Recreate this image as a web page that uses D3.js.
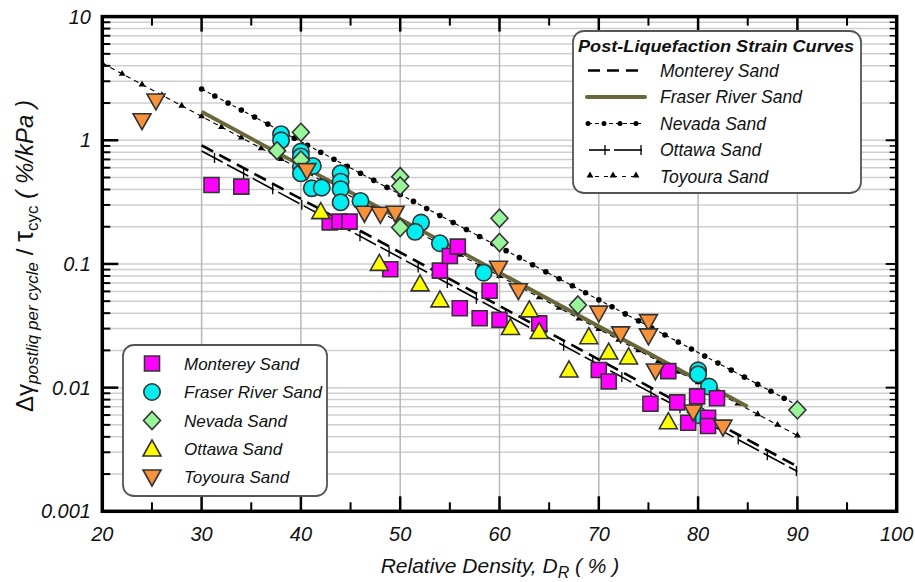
<!DOCTYPE html>
<html>
<head>
<meta charset="utf-8">
<script src="https://cdn.jsdelivr.net/npm/d3@7"></script>
<style>
  html, body { margin: 0; padding: 0; background: #fff; }
  svg { display: block; }
  text { font-family: "Liberation Sans", Arial, sans-serif; }
</style>
</head>
<body>
<svg id="chart" width="915" height="582"></svg>
<script>
// ---- Measured data: relative density (%) vs. post-liquefaction strain rate ----
const montereyDr  = [31, 34, 42.9, 43.9, 44.9, 49, 54, 55, 55.8, 59, 56, 58, 60, 64, 70, 71, 75.2, 77, 77.9, 79.9, 81.9, 79, 81, 81];
const montereyVal = [0.435, 0.422, 0.217, 0.22, 0.22, 0.0906, 0.0883, 0.116, 0.138, 0.0608, 0.0438, 0.0364, 0.0353, 0.0331, 0.0139, 0.0112, 0.0074, 0.0136, 0.0076, 0.0085, 0.0082, 0.0052, 0.0057, 0.0049];

const fraserDr  = [38, 38, 40, 40, 40, 40, 41.2, 41.1, 42.1, 44, 44, 44, 44, 46, 52.1, 51.5, 54, 58.4, 80, 80, 81.1, 80];
const fraserVal = [1.12, 1.0, 0.81, 0.74, 0.61, 0.54, 0.62, 0.409, 0.414, 0.54, 0.463, 0.402, 0.315, 0.323, 0.216, 0.182, 0.147, 0.085, 0.0138, 0.0128, 0.0102, 0.006];

const nevadaDr  = [40, 37.6, 40, 50, 50, 50, 60, 60, 67.9, 90];
const nevadaVal = [1.16, 0.824, 0.693, 0.508, 0.427, 0.197, 0.234, 0.149, 0.0466, 0.0066];

const ottawaDr  = [42, 47.9, 52, 54, 61.1, 63, 64, 67, 69, 71, 73, 77];
const ottawaVal = [0.265, 0.101, 0.069, 0.0512, 0.0306, 0.0425, 0.0284, 0.0139, 0.0258, 0.0194, 0.0177, 0.0053];

const toyouraDr  = [25.4, 24, 40.6, 46.4, 48, 49.5, 59.9, 61.9, 70, 72.2, 75, 75, 75.7, 79.5, 82.5];
const toyouraVal = [2.08, 1.44, 0.568, 0.257, 0.252, 0.257, 0.0923, 0.0608, 0.04, 0.0272, 0.0342, 0.0262, 0.01364, 0.00635, 0.00479];

// ---- Fitted post-liquefaction strain curves (end points: Dr, value) ----
const curveMonterey = [[30, 0.91], [90, 0.0023]];
const curveFraser   = [[30, 1.70], [85, 0.0070]];
const curveNevada   = [[30, 2.60], [90, 0.0072]];
const curveOttawa   = [[30, 0.82], [90, 0.0021]];
const curveToyoura  = [[20, 4.2],  [90, 0.0041]];

// ---- Axis ticks ----
const xTicks = [20, 30, 40, 50, 60, 70, 80, 90, 100];
const yTicks = [0.001, 0.01, 0.1, 1, 10];
const yTickLabels = ["0.001", "0.01", "0.1", "1", "10"];

const sandNames = ["Monterey Sand", "Fraser River Sand", "Nevada Sand", "Ottawa Sand", "Toyoura Sand"];

const svg = d3.select("#chart");
const L = 102.3, R = 896.7, T = 16.6, B = 511.3;
const x = d3.scaleLinear().domain([20, 100]).range([L, R]);
const y = d3.scaleLog().domain([0.001, 10]).range([B, T]);

// minor values on the log axis
const yMinor = [];
for (let e = -3; e < 1; e++) for (let m = 2; m <= 9; m++) yMinor.push(m * Math.pow(10, e));
const xMinor = d3.range(25, 100, 10);

// ---- Grid ----
const grid = svg.append("g");
grid.selectAll(".hg").data(yMinor.concat(yTicks.slice(1, 4))).join("line")
  .attr("x1", L).attr("x2", R).attr("y1", d => y(d)).attr("y2", d => y(d))
  .attr("stroke", "#cfcfcf").attr("stroke-width", 1.5);
grid.selectAll(".vg").data(xTicks.slice(1, -1)).join("line")
  .attr("y1", T).attr("y2", B).attr("x1", d => x(d)).attr("x2", d => x(d))
  .attr("stroke", "#b8b8b8").attr("stroke-width", 1.5);

// ---- Ticks (inward) on all four sides ----
const ticks = svg.append("g").attr("stroke", "#000");
xTicks.slice(1, -1).forEach(v => {
  ticks.append("line").attr("x1", x(v)).attr("x2", x(v)).attr("y1", B).attr("y2", B - 15).attr("stroke-width", 2.5);
  ticks.append("line").attr("x1", x(v)).attr("x2", x(v)).attr("y1", T).attr("y2", T + 15).attr("stroke-width", 2.5);
});
xMinor.forEach(v => {
  ticks.append("line").attr("x1", x(v)).attr("x2", x(v)).attr("y1", B).attr("y2", B - 9).attr("stroke-width", 2);
  ticks.append("line").attr("x1", x(v)).attr("x2", x(v)).attr("y1", T).attr("y2", T + 9).attr("stroke-width", 2);
});
yTicks.slice(1, -1).forEach(v => {
  ticks.append("line").attr("x1", L).attr("x2", L + 16).attr("y1", y(v)).attr("y2", y(v)).attr("stroke-width", 2.5);
  ticks.append("line").attr("x1", R).attr("x2", R - 11).attr("y1", y(v)).attr("y2", y(v)).attr("stroke-width", 2);
});
yMinor.forEach(v => {
  ticks.append("line").attr("x1", L).attr("x2", L + 8).attr("y1", y(v)).attr("y2", y(v)).attr("stroke-width", 2);
  ticks.append("line").attr("x1", R).attr("x2", R - 7).attr("y1", y(v)).attr("y2", y(v)).attr("stroke-width", 1.5);
});

// ---- Tick labels ----
svg.append("g").selectAll("text").data(xTicks).join("text")
  .attr("x", d => x(d)).attr("y", 541).attr("text-anchor", "middle")
  .attr("font-size", 20).attr("font-style", "italic").attr("fill", "#111")
  .text(d => d);
svg.append("g").selectAll("text").data(yTicks).join("text")
  .attr("x", 91).attr("y", d => y(d) + 7).attr("text-anchor", "end")
  .attr("font-size", 20).attr("font-style", "italic").attr("fill", "#111")
  .text((d, i) => yTickLabels[i]);

// ---- Axis titles ----
const xt = svg.append("text").attr("x", 500).attr("y", 573).attr("text-anchor", "middle")
  .attr("font-size", 21).attr("font-style", "italic").attr("fill", "#111");
xt.append("tspan").text("Relative Density, D");
xt.append("tspan").attr("font-size", 16).attr("dy", 5).text("R");
xt.append("tspan").attr("dy", -5).text(" ( % )");

const yt = svg.append("text").attr("transform", "translate(33,256) rotate(-90)")
  .attr("text-anchor", "middle").attr("font-size", 24).attr("fill", "#111");
yt.append("tspan").text("Δγ");
yt.append("tspan").attr("font-size", 17).attr("font-style", "italic").attr("dy", 5).text("postliq per cycle");
yt.append("tspan").attr("dy", -5).text(" / ");
yt.append("tspan").attr("font-size", 28).text("τ");
yt.append("tspan").attr("font-size", 17).attr("dy", 5).text("cyc");
yt.append("tspan").attr("dy", -5).attr("font-style", "italic").text(" ( %/kPa )");

// ---- Curves ----
const clip = svg.append("clipPath").attr("id", "plotClip").append("rect")
  .attr("x", L).attr("y", T).attr("width", R - L).attr("height", B - T);
const curves = svg.append("g").attr("clip-path", "url(#plotClip)");
const line = d3.line().x(d => x(d[0])).y(d => y(d[1]));
const logInterp = (c, dr) => {
  const t = (dr - c[0][0]) / (c[1][0] - c[0][0]);
  return Math.pow(10, Math.log10(c[0][1]) + t * (Math.log10(c[1][1]) - Math.log10(c[0][1])));
};

// Toyoura: short dashes with small triangles
curves.append("path").attr("d", line(curveToyoura)).attr("fill", "none")
  .attr("stroke", "#000").attr("stroke-width", 1.1).attr("stroke-dasharray", "5,4");
curves.selectAll(".toyM").data(d3.range(20, 90.01, 2)).join("path")
  .attr("d", d3.symbol(d3.symbolTriangle, 20))
  .attr("transform", d => `translate(${x(d)},${y(logInterp(curveToyoura, d))})`)
  .attr("fill", "#000");

// Nevada: short dashes with dots
curves.append("path").attr("d", line(curveNevada)).attr("fill", "none")
  .attr("stroke", "#000").attr("stroke-width", 1.1).attr("stroke-dasharray", "4,3");
curves.selectAll(".nevM").data(d3.range(30, 90.01, 4 / 3)).join("circle")
  .attr("cx", d => x(d)).attr("cy", d => y(logInterp(curveNevada, d)))
  .attr("r", 2.8).attr("fill", "#000");

// Ottawa: long dashes with cross ticks
curves.append("path").attr("d", line(curveOttawa)).attr("fill", "none")
  .attr("stroke", "#000").attr("stroke-width", 1.6).attr("stroke-dasharray", "24,5");
curves.selectAll(".otM").data(d3.range(31.3, 90, 2.93)).join("line")
  .attr("x1", d => x(d)).attr("x2", d => x(d))
  .attr("y1", d => y(logInterp(curveOttawa, d)) - 5).attr("y2", d => y(logInterp(curveOttawa, d)) + 5)
  .attr("stroke", "#000").attr("stroke-width", 1.3);

// Monterey: heavy dashes
curves.append("path").attr("d", line(curveMonterey)).attr("fill", "none")
  .attr("stroke", "#000").attr("stroke-width", 2.6).attr("stroke-dasharray", "13,7");

// Fraser River: solid olive
curves.append("path").attr("d", line(curveFraser)).attr("fill", "none")
  .attr("stroke", "#6a673a").attr("stroke-width", 3.8);

// ---- Markers ----
const styles = [
  { fill: "#ff00ff", sym: "square" },
  { fill: "#00eef0", sym: "circle" },
  { fill: "#98f59a", sym: "diamond" },
  { fill: "#ffff00", sym: "up" },
  { fill: "#f7923a", sym: "down" }
];
function symbolPath(kind) {
  switch (kind) {
    case "square":  return "M-7.5,-7.5H7.5V7.5H-7.5Z";
    case "circle":  return d3.symbol(d3.symbolCircle, Math.PI * 8.2 * 8.2)();
    case "diamond": return "M0,-9L8.5,0L0,9L-8.5,0Z";
    case "up":      return "M0,-9L9,7H-9Z";
    case "down":    return "M0,9L9,-7H-9Z";
  }
}
const seriesDr  = [montereyDr, fraserDr, nevadaDr, ottawaDr, toyouraDr];
const seriesVal = [montereyVal, fraserVal, nevadaVal, ottawaVal, toyouraVal];
const drawOrder = [1, 0, 3, 2, 4];
const marks = svg.append("g");
drawOrder.forEach(si => {
  const pts = seriesDr[si].map((d, i) => [d, seriesVal[si][i]]);
  marks.append("g").selectAll("path").data(pts).join("path")
    .attr("d", symbolPath(styles[si].sym))
    .attr("transform", d => `translate(${x(d[0])},${y(d[1])})`)
    .attr("fill", styles[si].fill).attr("stroke", "#333").attr("stroke-width", 1.6);
});

// ---- Plot frame ----
svg.append("rect").attr("x", L).attr("y", T).attr("width", R - L).attr("height", B - T)
  .attr("fill", "none").attr("stroke", "#000").attr("stroke-width", 3.5);

// ---- Curve legend ----
const lg1 = svg.append("g");
lg1.append("rect").attr("x", 573).attr("y", 31).attr("width", 288).attr("height", 162)
  .attr("rx", 11).attr("fill", "#fff").attr("stroke", "#555").attr("stroke-width", 1.8);
lg1.append("text").attr("x", 578).attr("y", 52).attr("font-size", 16.5)
  .attr("font-weight", "bold").attr("font-style", "italic").attr("fill", "#111")
  .attr("textLength", 276).attr("lengthAdjust", "spacingAndGlyphs")
  .text("Post-Liquefaction Strain Curves");
const rowY = [70.5, 97, 123.5, 150, 176.5];
lg1.selectAll(".lt").data(sandNames).join("text")
  .attr("x", 660).attr("y", (d, i) => rowY[i] + 6).attr("font-family", "Lato, sans-serif")
  .attr("font-size", 17.5).attr("font-style", "italic").attr("fill", "#111").text(d => d);
// symbols
lg1.append("line").attr("x1", 588).attr("x2", 638).attr("y1", rowY[0]).attr("y2", rowY[0])
  .attr("stroke", "#000").attr("stroke-width", 2.6).attr("stroke-dasharray", "12,7");
lg1.append("line").attr("x1", 587).attr("x2", 645).attr("y1", rowY[1]).attr("y2", rowY[1])
  .attr("stroke", "#6a673a").attr("stroke-width", 4).attr("stroke-linecap", "round");
lg1.append("line").attr("x1", 588).attr("x2", 643).attr("y1", rowY[2]).attr("y2", rowY[2])
  .attr("stroke", "#000").attr("stroke-width", 1.1).attr("stroke-dasharray", "4,3");
lg1.selectAll(".nd").data([588, 604, 620, 636]).join("circle")
  .attr("cx", d => d).attr("cy", rowY[2]).attr("r", 2.5).attr("fill", "#000");
lg1.append("line").attr("x1", 589).attr("x2", 610).attr("y1", rowY[3]).attr("y2", rowY[3])
  .attr("stroke", "#000").attr("stroke-width", 1.6);
lg1.append("line").attr("x1", 614).attr("x2", 642).attr("y1", rowY[3]).attr("y2", rowY[3])
  .attr("stroke", "#000").attr("stroke-width", 1.6);
[605, 641].forEach(px => lg1.append("line").attr("x1", px).attr("x2", px)
  .attr("y1", rowY[3] - 5).attr("y2", rowY[3] + 5).attr("stroke", "#000").attr("stroke-width", 1.3));
lg1.append("line").attr("x1", 590).attr("x2", 636).attr("y1", rowY[4]).attr("y2", rowY[4])
  .attr("stroke", "#000").attr("stroke-width", 1.1).attr("stroke-dasharray", "4,5").attr("stroke-dashoffset", -5);
lg1.selectAll(".tm").data([590, 613, 636]).join("path")
  .attr("d", d3.symbol(d3.symbolTriangle, 20))
  .attr("transform", d => `translate(${d},${rowY[4] - 1})`).attr("fill", "#000");

// ---- Marker legend ----
const lg2 = svg.append("g");
lg2.append("rect").attr("x", 123).attr("y", 345).attr("width", 204).attr("height", 151)
  .attr("rx", 11).attr("fill", "#fff").attr("stroke", "#555").attr("stroke-width", 1.8);
const row2 = [363.5, 392, 420.5, 449, 477];
sandNames.forEach((name, i) => {
  lg2.append("path").attr("d", symbolPath(styles[i].sym))
    .attr("transform", `translate(152,${row2[i]})`)
    .attr("fill", styles[i].fill).attr("stroke", "#333").attr("stroke-width", 1.6);
  lg2.append("text").attr("x", 184).attr("y", row2[i] + 6).attr("font-family", "Lato, sans-serif")
    .attr("font-size", 17).attr("font-style", "italic").attr("fill", "#111").text(name);
});
</script>
</body>
</html>
